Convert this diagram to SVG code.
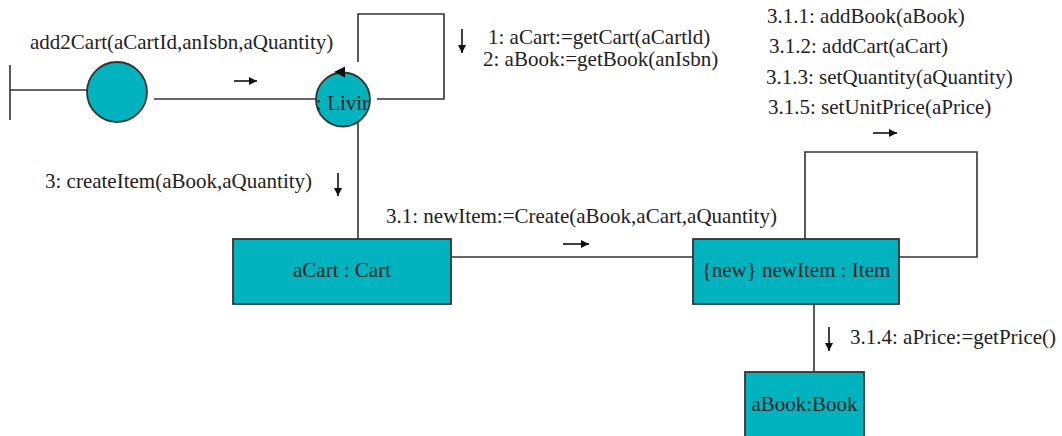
<svg xmlns="http://www.w3.org/2000/svg" width="1062" height="436" viewBox="0 0 1062 436">
<defs>
<style>
text{font-family:"Liberation Serif","Times New Roman",serif;font-size:21px;fill:#222}
.ln{fill:none;stroke:#333;stroke-width:1.6}
.node{fill:#00B3BE;stroke:#333;stroke-width:1.8}
.ar{stroke:#111;stroke-width:1.6;fill:none}
.ah{fill:#111;stroke:none}
</style>
<marker id="tri" viewBox="0 0 10 10" refX="10" refY="5" markerWidth="8" markerHeight="8" markerUnits="userSpaceOnUse" orient="auto">
<path d="M0,0L10,5L0,10z" class="ah"/>
</marker>
</defs>
<rect width="1062" height="436" fill="#fff"/>
<g id="connectors">
<path class="ln" d="M10,65V120M10,90H87"/>
<path class="ln" d="M154,99H316"/>
<path class="ln" d="M358,62V14H444V99H377"/>
<path class="ln" d="M358,122V239"/>
<path class="ln" d="M451,257H693"/>
<path class="ln" d="M805,239V152H977V257H899"/>
<path class="ln" d="M814,304V372"/>
</g>
<g id="n_entry"><circle class="node" cx="117" cy="92" r="30"/></g>
<g id="n_living"><circle class="node" cx="343" cy="99.5" r="27"/><text x="316" y="110">: Livir</text>
<path class="ah" d="M334,72L345,66.5V77.5z"/></g>
<g id="n_cart"><rect class="node" x="233" y="239" width="218" height="65"/><text x="342" y="277" text-anchor="middle">aCart : Cart</text></g>
<g id="n_item"><rect class="node" x="693" y="239" width="206" height="65"/><text x="796" y="277" text-anchor="middle">{new} newItem : Item</text></g>
<g id="n_book"><rect class="node" x="745" y="372" width="119" height="70"/><text x="804.5" y="411" text-anchor="middle">aBook:Book</text></g>
<g id="labels">
<text x="30" y="49">add2Cart(aCartId,anIsbn,aQuantity)</text>
<path class="ar" d="M234,81H257" marker-end="url(#tri)"/>
<text x="488" y="44">1: aCart:=getCart(aCartld)</text>
<text x="483" y="66">2: aBook:=getBook(anIsbn)</text>
<path class="ar" d="M462,29V53" marker-end="url(#tri)"/>
<text x="767" y="23">3.1.1: addBook(aBook)</text>
<text x="769" y="53">3.1.2: addCart(aCart)</text>
<text x="766" y="84">3.1.3: setQuantity(aQuantity)</text>
<text x="768" y="114">3.1.5: setUnitPrice(aPrice)</text>
<path class="ar" d="M873,133H897" marker-end="url(#tri)"/>
<text x="45" y="188">3: createItem(aBook,aQuantity)</text>
<path class="ar" d="M338,173V196" marker-end="url(#tri)"/>
<text x="386" y="223">3.1: newItem:=Create(aBook,aCart,aQuantity)</text>
<path class="ar" d="M563,244H589" marker-end="url(#tri)"/>
<path class="ar" d="M829,327V351" marker-end="url(#tri)"/>
<text x="850" y="344">3.1.4: aPrice:=getPrice()</text>
</g>
</svg>
